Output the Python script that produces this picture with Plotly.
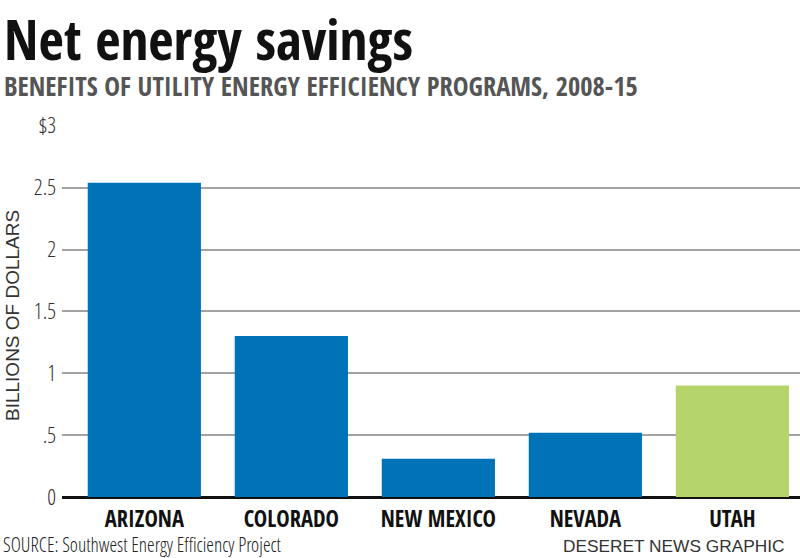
import plotly.graph_objects as go

states = ["ARIZONA", "COLORADO", "NEW MEXICO", "NEVADA", "UTAH"]
savings = [2.54, 1.30, 0.31, 0.52, 0.90]
bar_colors = ["#0072b8", "#0072b8", "#0072b8", "#0072b8", "#b5d56a"]
tick_vals = [0, 0.5, 1, 1.5, 2, 2.5, 3]
tick_text = ["0", ".5", "1", "1.5", "2", "2.5", "$3"]

COND = "Open Sans Condensed"
COND_LIGHT = "Open Sans Condensed Light, DejaVu Sans Condensed, sans-serif"
PLAIN = "Liberation Sans"

L, T, B = 62, 125, 61
PH = 558 - T - B
PW = 800 - L


def px_x(x):
    return (x - L) / PW


def px_y(y):
    return (558 - B - y) / PH


fig = go.Figure(go.Bar(x=states, y=savings, marker=dict(color=bar_colors, line=dict(width=0)),
                       width=0.77))

fig.update_layout(
    width=800, height=558,
    margin=dict(l=L, r=0, t=T, b=B),
    paper_bgcolor="white", plot_bgcolor="white",
    showlegend=False,
    xaxis=dict(range=[-0.56, 4.46], showgrid=False, showline=False, zeroline=False,
               tickfont=dict(family=COND, size=22.5, color="#111", weight="bold"), ticks="",
               ticklabelstandoff=6, automargin=False),
    yaxis=dict(range=[0, 3.006], tickvals=tick_vals, ticktext=tick_text,
               showgrid=True, gridcolor="#a3a3a3", gridwidth=1.6,
               zeroline=True, zerolinecolor="#111", zerolinewidth=2.5,
               showline=False, ticks="", ticklabelstandoff=5, automargin=False,
               tickfont=dict(family=COND_LIGHT, size=22, color="#333", weight=300)),
)

fig.add_annotation(text="BILLIONS OF DOLLARS", xref="paper", yref="paper", x=px_x(12), y=px_y(316),
                   textangle=-90, showarrow=False, xanchor="center", yanchor="middle",
                   font=dict(family=PLAIN, size=19, color="#333"))
fig.add_annotation(text="<b>Net energy savings</b>", xref="paper", yref="paper",
                   x=px_x(3), y=px_y(0), xanchor="left", yanchor="top", showarrow=False, borderpad=0,
                   font=dict(family=COND, size=55, color="#111"))
fig.add_annotation(text="<b>BENEFITS OF UTILITY ENERGY EFFICIENCY PROGRAMS, 2008-15</b>", xref="paper", yref="paper",
                   x=px_x(3), y=px_y(67), xanchor="left", yanchor="top", showarrow=False, borderpad=0,
                   font=dict(family=COND, size=26.5, color="#555"))
fig.add_annotation(text="SOURCE: Southwest Energy Efficiency Project", xref="paper", yref="paper",
                   x=px_x(2), y=px_y(530), xanchor="left", yanchor="top", showarrow=False, borderpad=0,
                   font=dict(family=COND_LIGHT, size=19.5, color="#222", weight=300))
fig.add_annotation(text="DESERET NEWS GRAPHIC", xref="paper", yref="paper",
                   x=px_x(786), y=px_y(535), xanchor="right", yanchor="top", showarrow=False, borderpad=0,
                   font=dict(family=PLAIN, size=17.3, color="#333"))

fig.write_html("out.html", config={"displayModeBar": False},
               post_script="document.body.style.margin='0';")
